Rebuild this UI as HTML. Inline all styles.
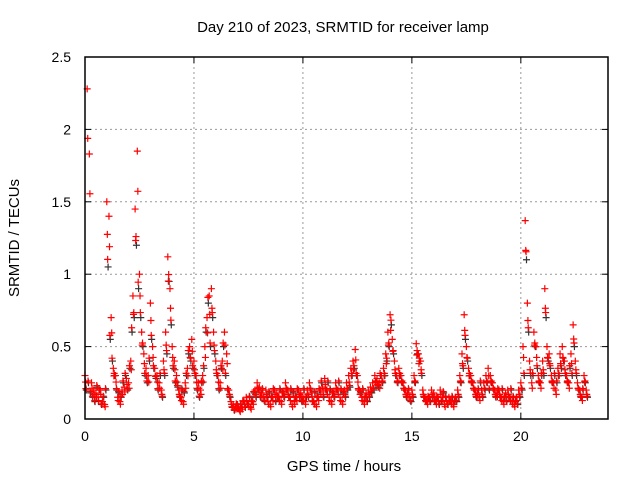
<!DOCTYPE html>
<html><head><meta charset="utf-8"><style>
body{margin:0;background:#fff;}
svg{display:block;font-family:"Liberation Sans",sans-serif;}
</style></head><body>
<svg id="chart" width="640" height="480">
<rect width="640" height="480" fill="#fff"/>
<g id="grid"></g>
<g id="marks"></g>
<rect x="85" y="57" width="523" height="362" fill="none" stroke="#000" stroke-width="1.5"/>
<g id="ticks"></g>
<text x="343" y="32" text-anchor="middle" font-size="15">Day 210 of 2023, SRMTID for receiver lamp</text>
<text x="344" y="471" text-anchor="middle" font-size="15">GPS time / hours</text>
<text transform="translate(19,238) rotate(-90)" text-anchor="middle" font-size="15">SRMTID / TECUs</text>
</svg>
<script>
const xTicks=[0,5,10,15,20];
const yTicks=[0,0.5,1,1.5,2,2.5];
const yTickLabels=["0","0.5","1","1.5","2","2.5"];
const valuesA=[0.3,2.28,1.83,0.25,0.2,0.18,0.15,0.2,0.12,0.1,
1.5,1.4,0.7,0.35,0.3,0.15,0.12,0.2,0.22,0.28,
0.25,0.4,0.85,1.45,1.85,1.0,0.6,0.45,0.35,0.3,
0.8,0.5,0.35,0.3,0.25,0.2,0.4,0.6,1.12,0.9,
0.5,0.4,0.3,0.2,0.15,0.12,0.25,0.35,0.5,0.55,
0.4,0.3,0.25,0.2,0.3,0.5,0.7,0.85,0.9,0.6,
0.4,0.3,0.25,0.4,0.6,0.45,0.2,0.12,0.1,0.08,
0.1,0.06,0.08,0.12,0.15,0.1,0.08,0.12,0.2,0.25,
0.22,0.18,0.15,0.2,0.12,0.1,0.15,0.2,0.18,0.15,
0.12,0.18,0.25,0.2,0.15,0.1,0.12,0.15,0.2,0.18,
0.15,0.12,0.2,0.25,0.18,0.12,0.1,0.15,0.2,0.22,
0.28,0.2,0.15,0.12,0.18,0.25,0.2,0.15,0.12,0.2,
0.25,0.3,0.35,0.4,0.48,0.3,0.2,0.15,0.12,0.18,
0.2,0.22,0.25,0.3,0.28,0.25,0.3,0.35,0.45,0.6,
0.72,0.55,0.4,0.3,0.35,0.3,0.25,0.2,0.18,0.15,
0.2,0.3,0.52,0.45,0.4,0.2,0.15,0.12,0.15,0.2,
0.18,0.12,0.15,0.2,0.15,0.1,0.12,0.15,0.12,0.1,
0.15,0.2,0.3,0.45,0.72,0.5,0.35,0.3,0.25,0.2,
0.18,0.15,0.2,0.25,0.3,0.35,0.3,0.25,0.2,0.18,
0.2,0.15,0.12,0.18,0.2,0.15,0.12,0.1,0.15,0.2,
0.25,0.5,1.37,0.8,0.4,0.25,0.6,0.5,0.3,0.25,
0.4,0.9,0.5,0.45,0.3,0.25,0.2,0.35,0.45,0.5,
0.4,0.3,0.25,0.45,0.65,0.4,0.25,0.2,0.15,0.3,0.2];
const valuesB=[0.2,0.25,0.18,0.15,0.12,0.22,0.2,0.1,0.15,0.2,
1.05,0.55,0.4,0.3,0.2,0.18,0.15,0.25,0.3,0.2,
0.35,0.6,0.7,1.2,0.9,0.7,0.5,0.3,0.25,0.4,
0.55,0.35,0.28,0.2,0.3,0.15,0.3,0.45,0.95,0.65,
0.35,0.25,0.22,0.15,0.2,0.18,0.3,0.45,0.4,0.35,
0.3,0.2,0.15,0.25,0.35,0.6,0.8,0.5,0.7,0.45,
0.3,0.2,0.35,0.5,0.3,0.2,0.15,0.08,0.06,0.1,
0.07,0.1,0.12,0.08,0.1,0.15,0.12,0.18,0.15,0.2,
0.15,0.2,0.12,0.15,0.18,0.15,0.2,0.12,0.15,0.2,
0.18,0.15,0.2,0.15,0.2,0.18,0.15,0.2,0.15,0.12,
0.2,0.15,0.15,0.2,0.12,0.18,0.15,0.2,0.25,0.15,
0.2,0.25,0.2,0.18,0.15,0.2,0.25,0.2,0.18,0.15,
0.2,0.22,0.3,0.35,0.3,0.2,0.18,0.2,0.15,0.12,
0.15,0.18,0.2,0.25,0.22,0.3,0.25,0.3,0.4,0.5,
0.65,0.45,0.3,0.25,0.3,0.25,0.2,0.15,0.2,0.12,
0.15,0.25,0.45,0.4,0.3,0.15,0.12,0.15,0.12,0.15,
0.12,0.15,0.1,0.12,0.18,0.15,0.1,0.12,0.15,0.12,
0.12,0.15,0.25,0.35,0.55,0.4,0.3,0.25,0.2,0.15,
0.2,0.25,0.15,0.2,0.25,0.2,0.25,0.2,0.15,0.2,
0.15,0.2,0.15,0.12,0.15,0.2,0.15,0.12,0.1,0.15,
0.2,0.3,1.1,0.6,0.3,0.3,0.5,0.35,0.25,0.3,
0.3,0.7,0.4,0.35,0.25,0.3,0.25,0.3,0.35,0.4,
0.3,0.25,0.35,0.3,0.5,0.3,0.2,0.15,0.2,0.25,0.15];
const tStep=0.1;
const NS='http://www.w3.org/2000/svg';
const L=85,R=608,T=57,B=419;
function xs(v){return L+(v/24)*(R-L);}
function ys(v){return B-(v/2.5)*(B-T);}
function mk(tag,attrs,parent){const e=document.createElementNS(NS,tag);for(const k in attrs)e.setAttribute(k,attrs[k]);parent.appendChild(e);return e;}
const grid=document.getElementById('grid'),ticks=document.getElementById('ticks'),marks=document.getElementById('marks');
xTicks.forEach(v=>{
 if(v>0){const g=mk('line',{x1:xs(v),x2:xs(v),y1:T,y2:B,stroke:'#999','stroke-dasharray':'2,3'},grid);
 
 }
 const t=mk('line',{x1:xs(v),x2:xs(v),y1:B,y2:B-6,stroke:'#000'},ticks);
 
 
 const t2=mk('line',{x1:xs(v),x2:xs(v),y1:T,y2:T+6,stroke:'#000'},ticks);
 
 
 const lb=mk('text',{x:xs(v),y:B+22,'text-anchor':'middle','font-size':14},ticks);lb.textContent=String(v);
 
 
});
yTicks.forEach((v,i)=>{
 if(v>0&&v<2.5){const g=mk('line',{x1:L,x2:R,y1:ys(v),y2:ys(v),stroke:'#999','stroke-dasharray':'2,3'},grid);
 
 }
 const t=mk('line',{x1:L,x2:L+6,y1:ys(v),y2:ys(v),stroke:'#000'},ticks);
 
 
 const t2=mk('line',{x1:R,x2:R-6,y1:ys(v),y2:ys(v),stroke:'#000'},ticks);
 
 
 const lb=mk('text',{x:L-14,y:ys(v)+5,'text-anchor':'end','font-size':14},ticks);lb.textContent=yTickLabels[i];
 
 
});
function plus(x,y,color,name){
 const p=mk('path',{d:`M${x-3.5},${y}h7M${x},${y-3.5}v7`,stroke:color,'stroke-width':1.2,fill:'none'},marks);
 
 
}
valuesB.forEach((v,i)=>plus(xs(i*tStep+0.06),ys(v),'#333','point-b'));
valuesB.forEach((v,i)=>plus(xs(i*tStep+0.04),ys(v*1.05),'#ff0000','point-b-red'));
valuesA.forEach((v,i)=>plus(xs(i*tStep),ys(v),'#ff0000','point-a'));
valuesA.forEach((v,i)=>plus(xs(i*tStep+0.025),ys(v*0.85),'#ff0000','point-a2'));
</script>
</body></html>
